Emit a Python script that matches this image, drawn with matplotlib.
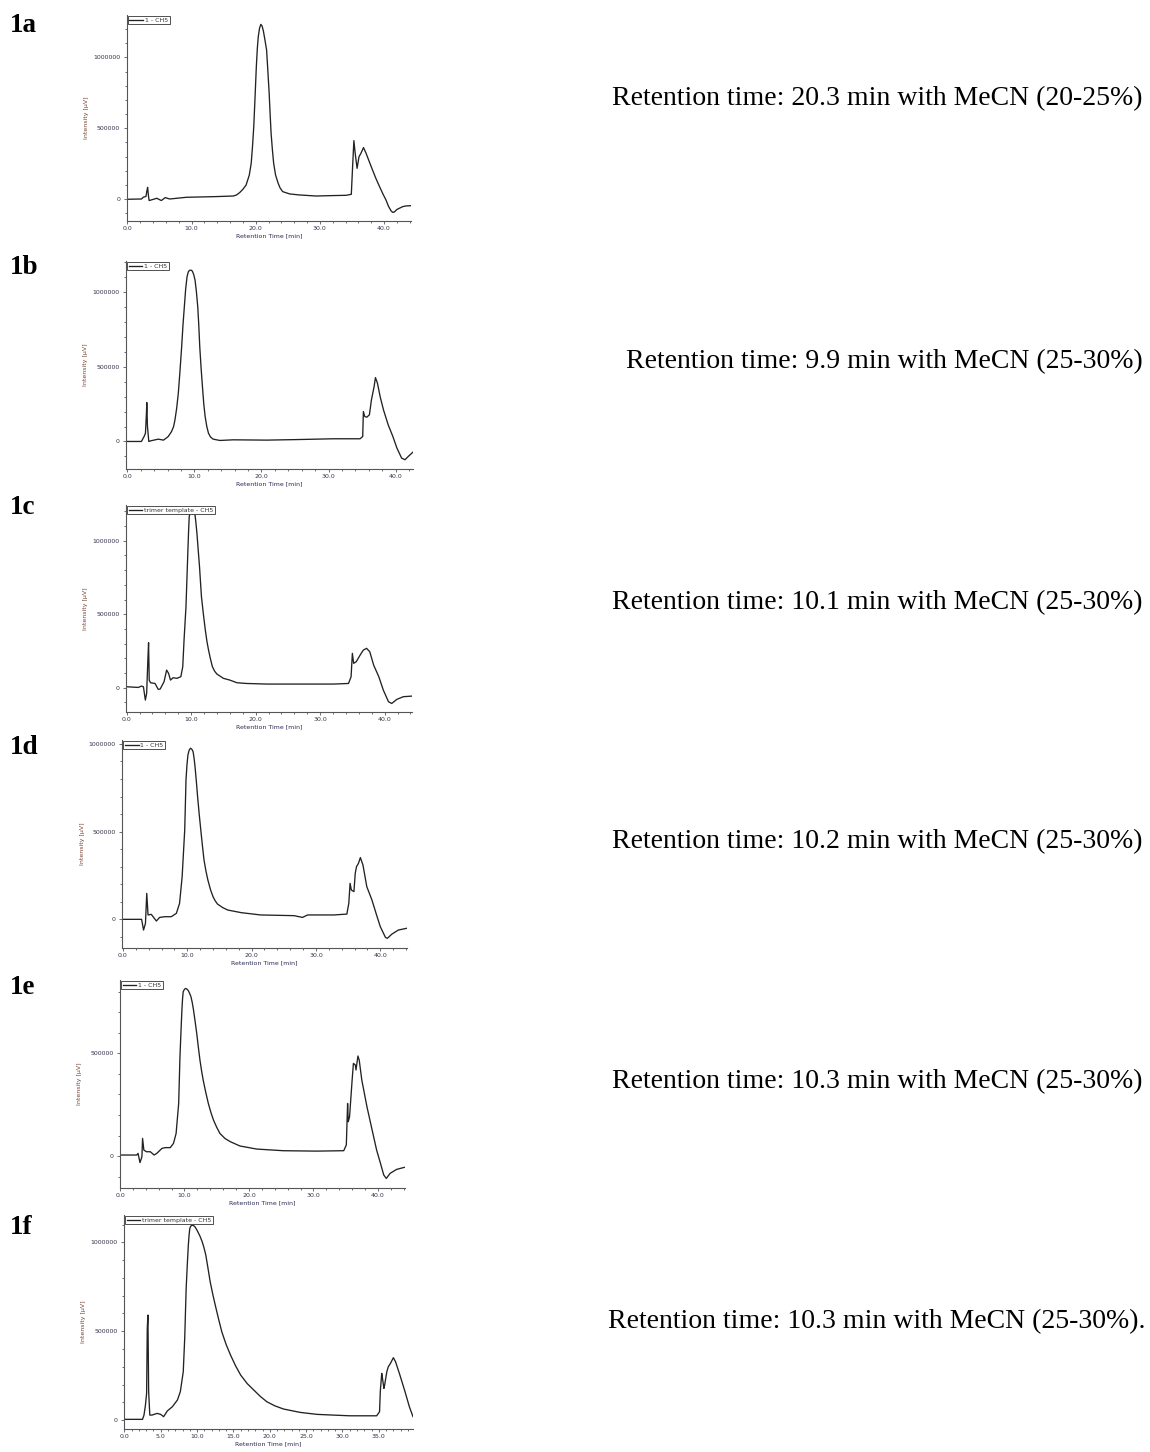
import numpy as np
import matplotlib
matplotlib.use("Agg")
import matplotlib.pyplot as plt
from matplotlib.ticker import MultipleLocator, FormatStrFormatter, FuncFormatter

# ---------------- data ----------------
panel_ids = ["1a", "1b", "1c", "1d", "1e", "1f"]
legend_labels = ["1 - CH5", "1 - CH5", "trimer template - CH5", "1 - CH5", "1 - CH5", "trimer template - CH5"]
notes = [
    "Retention time: 20.3 min with MeCN (20-25%)",
    "Retention time: 9.9 min with MeCN (25-30%)",
    "Retention time: 10.1 min with MeCN (25-30%)",
    "Retention time: 10.2 min with MeCN (25-30%)",
    "Retention time: 10.3 min with MeCN (25-30%)",
    "Retention time: 10.3 min with MeCN (25-30%).",
]

t_1a = [-0.1, 2.2, 2.5, 2.9, 3.05, 3.16, 3.3, 3.4, 4.6, 5.3, 5.9, 6.6, 9.2, 13.9, 16.5, 17.0, 17.5, 18.0, 18.5,
        19.0, 19.3, 19.5, 19.7, 19.9, 20.1, 20.25, 20.4, 20.6, 20.8, 21.0, 21.2, 21.45, 21.7, 21.9, 22.1, 22.25,
        22.4, 22.6, 22.8, 23.1, 23.5, 23.8, 24.2, 25.3, 26.8, 29.4, 32.0, 34.1, 34.9, 35.1, 35.3, 35.5, 35.8, 36.1,
        36.4, 36.8, 37.2, 37.7, 38.2, 38.7, 39.3, 39.8, 40.3, 40.7, 41.1, 41.35, 41.6, 42.0, 42.4, 42.9, 43.4, 44.2]
i_1a = [0, 2000, 15000, 20000, 60000, 84000, 20000, -9000, 7000, -9000, 12000, 2000, 14000, 19000, 23000, 30000,
        47000, 70000, 100000, 170000, 253000, 370000, 512000, 720000, 934000, 1060000, 1145000, 1205000, 1232000,
        1220000, 1185000, 1120000, 1051000, 900000, 746000, 600000, 465000, 350000, 253000, 170000, 113000, 80000,
        54000, 37500, 30500, 23000, 26000, 28000, 35000, 230000, 413000, 324000, 218000, 300000, 324000, 364000,
        324000, 265000, 207000, 150000, 89000, 40000, -5000, -50000, -82000, -92000, -90000, -72000, -63000,
        -52000, -47000, -45000]

t_1b = [-0.2, 2.1, 2.5, 2.7, 2.85, 2.9, 3.0, 3.2, 3.5, 4.6, 5.4, 6.1, 6.6, 6.9, 7.1, 7.35, 7.6, 7.85, 8.1, 8.3,
        8.5, 8.7, 8.9, 9.1, 9.3, 9.5, 9.7, 9.9, 10.1, 10.3, 10.5, 10.65, 10.8, 11.0, 11.2, 11.4, 11.6, 11.85, 12.1,
        12.4, 12.8, 13.8, 15.8, 20.8, 25.7, 30.7, 34.7, 35.1, 35.2, 35.4, 35.7, 36.1, 36.4, 36.8, 37.0, 37.3, 37.7,
        38.2, 38.9, 39.6, 40.2, 40.9, 41.4, 41.9, 42.6]
i_1b = [0, 0, 33000, 55000, 190000, 260000, 100000, 0, 4400, 15500, 9000, 33000, 67000, 100000, 144000, 220000,
        322000, 470000, 633000, 780000, 900000, 1020000, 1100000, 1135000, 1144000, 1145000, 1138000, 1115000,
        1078000, 1000000, 900000, 780000, 633000, 490000, 367000, 250000, 167000, 100000, 55000, 30000, 15500,
        6700, 11000, 9000, 13000, 18000, 18000, 33000, 200000, 167000, 162000, 178000, 278000, 367000, 427000,
        389000, 300000, 211000, 111000, 33000, -44000, -111000, -122000, -100000, -71000]

t_1c = [-0.1, 1.8, 2.3, 2.6, 2.9, 3.1, 3.3, 3.4, 3.5, 3.7, 4.4, 4.9, 5.2, 5.8, 6.2, 6.5, 6.8, 7.2, 7.8, 8.4,
        8.7, 8.9, 9.2, 9.5, 9.6, 9.7, 9.9, 10.1, 10.3, 10.5, 10.7, 10.9, 11.1, 11.3, 11.45, 11.6, 11.9, 12.2, 12.45,
        12.7, 13.0, 13.3, 13.65, 14.0, 15.0, 16.0, 17.1, 18.6, 21.7, 26.9, 32.1, 34.4, 34.8, 35.0, 35.2, 35.6, 36.2,
        36.7, 37.2, 37.7, 38.3, 39.1, 39.8, 40.6, 41.1, 41.9, 42.9, 44.2]
i_1c = [7000, 2000, 11000, 7000, -84000, -39000, 200000, 306000, 52000, 34000, 29000, -11000, -9000, 41000, 120000,
        98000, 52000, 68000, 64000, 75000, 143000, 324000, 551000, 937000, 1060000, 1163000, 1205000, 1220000,
        1222000, 1209000, 1140000, 1050000, 935000, 823000, 720000, 619000, 500000, 392000, 315000, 256000, 195000,
        143000, 112000, 93000, 64000, 52000, 34000, 29000, 25000, 25000, 25000, 29000, 75000, 234000, 166000,
        177000, 222000, 256000, 268000, 245000, 154000, 75000, -16000, -95000, -107000, -79000, -61000, -57000]

t_1d = [-0.1, 2.9, 3.05, 3.2, 3.5, 3.7, 3.9, 4.4, 5.2, 5.7, 6.5, 7.5, 8.3, 8.8, 9.2, 9.6, 9.7, 9.8, 9.95, 10.1,
        10.3, 10.5, 10.7, 10.9, 11.05, 11.2, 11.4, 11.6, 11.85, 12.1, 12.35, 12.6, 12.9, 13.2, 13.6, 14.0, 14.35,
        14.7, 15.5, 16.3, 18.4, 21.4, 26.6, 27.9, 28.7, 32.8, 34.8, 35.1, 35.3, 35.5, 35.9, 36.1, 36.3, 36.6, 36.9,
        37.3, 37.9, 38.7, 39.5, 40.0, 40.8, 41.1, 41.8, 42.8, 44.1]
i_1d = [0, 0, -30000, -61000, -23000, 148000, 25000, 28500, -9500, 11000, 15000, 15000, 34000, 91000, 243000,
        509000, 650000, 795000, 880000, 937000, 965000, 975000, 970000, 956000, 920000, 871000, 790000, 700000,
        600000, 509000, 420000, 338000, 275000, 224000, 170000, 129000, 105000, 87000, 67000, 53000, 38000, 25000,
        21000, 11000, 25000, 25000, 30000, 91000, 205000, 167000, 158000, 262000, 300000, 319000, 352000, 310000,
        186000, 110000, 15000, -42000, -103000, -108000, -84000, -61000, -51000]

t_1e = [0.0, 2.6, 2.8, 3.1, 3.4, 3.5, 3.7, 4.1, 4.7, 5.3, 5.7, 6.5, 7.0, 7.8, 8.3, 8.7, 9.1, 9.3, 9.45, 9.6,
        9.7, 9.8, 10.0, 10.2, 10.4, 10.6, 10.8, 11.0, 11.2, 11.4, 11.65, 11.9, 12.15, 12.4, 12.65, 12.9, 13.3, 13.7,
        14.1, 14.5, 15.0, 15.5, 16.3, 17.1, 18.6, 21.2, 25.3, 30.5, 34.7, 35.1, 35.3, 35.4, 35.6, 36.0, 36.2, 36.5,
        36.6, 36.9, 37.1, 37.5, 38.3, 39.1, 39.8, 40.4, 40.9, 41.3, 41.9, 42.9, 44.1]
i_1e = [5000, 5000, 13000, -32000, -3000, 86000, 29000, 21000, 21000, 5000, 13000, 37000, 41000, 41000, 62000,
        110000, 256000, 484000, 600000, 711000, 765000, 800000, 812000, 816000, 812000, 805000, 792000, 776000,
        748000, 711000, 655000, 597000, 530000, 467000, 415000, 370000, 310000, 256000, 212000, 175000, 140000,
        110000, 85000, 70000, 49000, 34000, 26000, 24000, 26000, 54000, 256000, 167000, 191000, 370000, 451000,
        443000, 419000, 487000, 467000, 370000, 240000, 127000, 29000, -36000, -92000, -109000, -84000, -65000,
        -55000]

t_1f = [0.0, 2.5, 2.7, 2.9, 3.06, 3.15, 3.24, 3.34, 3.5, 3.8, 4.5, 5.0, 5.4, 5.9, 6.6, 7.3, 7.7, 8.1, 8.3, 8.5,
        8.65, 8.8, 8.9, 9.0, 9.15, 9.3, 9.5, 9.7, 9.9, 10.1, 10.4, 10.7, 10.95, 11.2, 11.5, 11.8, 12.15, 12.5,
        12.95, 13.4, 14.0, 14.6, 15.3, 16.0, 16.9, 17.8, 18.7, 19.6, 20.7, 21.9, 24.2, 26.5, 28.7, 31.0, 33.3, 34.7,
        35.1, 35.2, 35.4, 35.5, 35.7, 35.8, 36.1, 36.3, 36.6, 37.0, 37.3, 37.9, 38.6, 39.2, 39.7]
i_1f = [4000, 4000, 28000, 84000, 150000, 516000, 591000, 160000, 28000, 28000, 37500, 32000, 19000, 51000, 75000,
        113000, 160000, 272000, 460000, 741000, 870000, 985000, 1040000, 1079000, 1092000, 1097000, 1095000,
        1088000, 1075000, 1060000, 1035000, 1004000, 970000, 929000, 855000, 779000, 710000, 647000, 570000,
        497000, 425000, 366000, 305000, 253000, 205000, 169000, 133000, 103000, 80000, 62000, 43000, 32000, 28000,
        24000, 24000, 24000, 47000, 160000, 263000, 235000, 178000, 197000, 272000, 300000, 319000, 351000, 328000,
        253000, 160000, 75000, 19000]

times = [t_1a, t_1b, t_1c, t_1d, t_1e, t_1f]
intensities = [i_1a, i_1b, i_1c, i_1d, i_1e, i_1f]

# axis ranges
xlims = [(-0.1, 44.2), (-0.2, 42.6), (-0.1, 44.2), (-0.1, 44.1), (0.0, 44.2), (-0.05, 39.7)]
ylims = [(-153000, 1298000), (-184000, 1206000), (-163000, 1243000), (-165000, 1022000),
         (-157000, 857000), (-52000, 1154000)]
x_major = [10, 10, 10, 10, 10, 5]
x_minor = [2, 2, 2, 2, 2, 1]

# ---------------- layout (pixels in the 1150x1452 canvas) ----------------
W, H = 1150, 1452
boxes = [(126.7, 15, 411, 221), (126, 261, 413, 469), (126, 505, 411.7, 711.7),
         (122.3, 740, 406.7, 948.3), (120, 980, 405, 1188.3), (124, 1215, 413, 1429.3)]
label_y = [25, 268, 508, 748, 988, 1228]
note_y = [99, 362, 603, 842, 1082, 1322]
note_x = [1143, 1143, 1143, 1143, 1143, 1146]

fig = plt.figure(figsize=(W / 100, H / 100), dpi=100)
fig.patch.set_facecolor("white")

line_col = "#222222"
axis_col = "#555555"
tick_txt = "#33334d"

for k in range(6):
    l, t, r, b = boxes[k]
    ax = fig.add_axes([l / W, 1 - b / H, (r - l) / W, (b - t) / H])
    ax.plot(np.array(times[k]), np.array(intensities[k]), color=line_col, lw=0.95,
            label=legend_labels[k], solid_joinstyle="round")
    ax.set_xlim(*xlims[k])
    ax.set_ylim(*ylims[k])
    for s in ("top", "right"):
        ax.spines[s].set_visible(False)
    for s in ("left", "bottom"):
        ax.spines[s].set_color(axis_col)
        ax.spines[s].set_linewidth(0.8)
    ax.xaxis.set_major_locator(MultipleLocator(x_major[k]))
    ax.xaxis.set_minor_locator(MultipleLocator(x_minor[k]))
    ax.xaxis.set_major_formatter(FormatStrFormatter("%.1f"))
    ax.yaxis.set_major_locator(MultipleLocator(500000))
    ax.yaxis.set_minor_locator(MultipleLocator(100000))
    ax.yaxis.set_major_formatter(FuncFormatter(lambda v, p: "%d" % round(v)))
    ax.tick_params(which="both", direction="out", colors=axis_col, labelcolor=tick_txt,
                   labelsize=4.5, width=0.6)
    ax.tick_params(which="major", length=2.2)
    ax.tick_params(which="minor", length=1.6)
    ax.tick_params(axis="x", pad=1.5)
    ax.tick_params(axis="y", pad=2.5)
    wpx, hpx = r - l, b - t
    ax.set_xlabel("Retention Time [min]", fontsize=4.5, color="#2b2b55")
    ax.xaxis.set_label_coords(0.5, -15 / hpx)
    ax.xaxis.label.set_va("center")
    ax.set_ylabel("Intensity [µV]", fontsize=4.5, color="#7a4535")
    ax.yaxis.set_label_coords(-40 / wpx, 0.5)
    ax.yaxis.label.set_va("center")
    leg = ax.legend(loc="upper left", bbox_to_anchor=(0, 1), borderaxespad=0.15, fontsize=4.5,
                    frameon=True, fancybox=False, edgecolor="#333333", framealpha=1,
                    handlelength=2.2, handletextpad=0.3, borderpad=0.25)
    leg.get_frame().set_linewidth(0.6)
    for txt in leg.get_texts():
        txt.set_color("#333333")

    fig.text(10 / W, 1 - label_y[k] / H, panel_ids[k], ha="left", va="center",
             fontsize=19.5, fontweight="bold", family="Liberation Serif")
    fig.text(note_x[k] / W, 1 - note_y[k] / H, notes[k], ha="right", va="center",
             fontsize=20, family="Liberation Serif")

fig.savefig("out.png", dpi=100)
